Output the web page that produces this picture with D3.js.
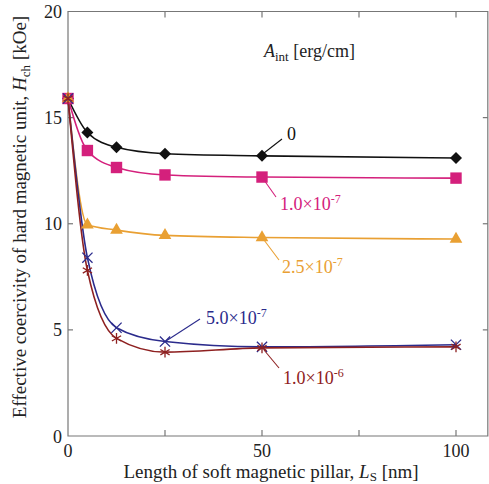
<!DOCTYPE html>
<html>
<head>
<meta charset="utf-8">
<script src="https://cdn.jsdelivr.net/npm/d3@7"></script>
</head>
<body style="margin:0">
<script>
// DATA
// Length of soft magnetic pillar [nm]
var lengths = [0, 5, 12.5, 25, 50, 100];

// Effective coercivity [kOe] for each exchange stiffness A_int
var hc0 = [15.9, 14.3, 13.6, 13.3, 13.2, 13.1];
var hc1e7 = [15.9, 13.45, 12.65, 12.3, 12.2, 12.15];
var hc25e7 = [15.9, 9.95, 9.7, 9.45, 9.35, 9.28];
var hc5e7 = [15.9, 8.4, 5.1, 4.45, 4.2, 4.3];
var hc1e6 = [15.9, 7.8, 4.6, 3.95, 4.15, 4.2];

var xTicks = [0, 25, 50, 75, 100];
var xTickLabels = ["0", "", "50", "", "100"];
var yTicks = [0, 5, 10, 15, 20];

var width = 489,
    height = 484;

var serif = "'Liberation Serif'";

var x = d3.scaleLinear().domain([0, 100]).range([68, 456]);
var y = d3.scaleLinear().domain([0, 20]).range([436, 11.5]);

var svg = d3.select("body").append("svg")
    .attr("width", width)
    .attr("height", height)
    .attr("font-family", "Liberation Serif");

var axisColor = "#777";

// frame
var right = x(108.2);
svg.append("path")
    .attr("d", "M" + x(0) + "," + y(20) + "H" + right + "V" + y(0) + "H" + x(0) + "Z")
    .attr("fill", "none")
    .attr("stroke", axisColor)
    .attr("stroke-width", 1.2);

// ticks (inward)
xTicks.forEach(function(t, i) {
    if (t > 0 && t < 108) {
        svg.append("line").attr("x1", x(t)).attr("x2", x(t))
            .attr("y1", y(0)).attr("y2", y(0) - 6)
            .attr("stroke", axisColor).attr("stroke-width", 1.2);
        svg.append("line").attr("x1", x(t)).attr("x2", x(t))
            .attr("y1", y(20)).attr("y2", y(20) + 6)
            .attr("stroke", axisColor).attr("stroke-width", 1.2);
    }
    if (xTickLabels[i]) {
        svg.append("text")
            .attr("x", x(t))
            .attr("y", 457)
            .attr("text-anchor", "middle")
            .style("font-family", serif)
            .style("font-size", "18px")
            .style("fill", "#222")
            .text(xTickLabels[i]);
    }
});

yTicks.forEach(function(t) {
    if (t > 0 && t < 20) {
        svg.append("line").attr("x1", x(0)).attr("x2", x(0) + 5)
            .attr("y1", y(t)).attr("y2", y(t))
            .attr("stroke", axisColor).attr("stroke-width", 1.2);
        svg.append("line").attr("x1", right).attr("x2", right - 5)
            .attr("y1", y(t)).attr("y2", y(t))
            .attr("stroke", axisColor).attr("stroke-width", 1.2);
    }
    svg.append("text")
        .attr("x", x(0) - 6)
        .attr("y", t === 0 ? y(t) + 7 : y(t) + 6)
        .attr("text-anchor", "end")
        .style("font-family", serif)
        .style("font-size", "18px")
        .style("fill", "#222")
        .text(t);
});

// axis titles
var yTitle = svg.append("text")
    .attr("transform", "translate(26," + 217 + ") rotate(-90)")
    .attr("text-anchor", "middle")
    .style("font-family", serif)
    .style("font-size", "19px")
    .style("fill", "#222");
yTitle.append("tspan").text("Effective coercivity of hard magnetic unit, ");
yTitle.append("tspan").style("font-style", "italic").text("H");
yTitle.append("tspan").attr("dy", 4).style("font-size", "13px").text("ch");
yTitle.append("tspan").attr("dy", -4).text(" [kOe]");

var xTitle = svg.append("text")
    .attr("x", 271)
    .attr("y", 478)
    .attr("text-anchor", "middle")
    .style("font-family", serif)
    .style("font-size", "19px")
    .style("fill", "#222");
xTitle.append("tspan").text("Length of soft magnetic pillar, ");
xTitle.append("tspan").style("font-style", "italic").text("L");
xTitle.append("tspan").attr("dy", 3).style("font-size", "13px").text("S");
xTitle.append("tspan").attr("dy", -3).text(" [nm]");

var aLabel = svg.append("text")
    .attr("x", 264)
    .attr("y", 57)
    .style("font-family", serif)
    .style("font-size", "18px")
    .style("fill", "#222");
aLabel.append("tspan").style("font-style", "italic").text("A");
aLabel.append("tspan").attr("dy", 4).style("font-size", "13px").text("int");
aLabel.append("tspan").attr("dy", -4).text(" [erg/cm]");

// series
var series = [
    { values: hc0, color: "#111", marker: "diamond", label: "0", sup: "", lx: 287, ly: 140, from: [282, 139], to: [264, 153] },
    { values: hc1e7, color: "#d4207c", marker: "square", label: "1.0\u00d710", sup: "-7", lx: 280, ly: 210, from: [276, 197], to: [264, 180] },
    { values: hc25e7, color: "#e9a033", marker: "triangle", label: "2.5\u00d710", sup: "-7", lx: 282, ly: 273, from: [279, 260], to: [264, 240] },
    { values: hc5e7, color: "#2b2b8c", marker: "cross", label: "5.0\u00d710", sup: "-7", lx: 206, ly: 324, from: [200, 319], to: [166, 341] },
    { values: hc1e6, color: "#8e2020", marker: "asterisk", label: "1.0\u00d710", sup: "-6", lx: 283, ly: 384, from: [279, 368], to: [264, 350] }
];

var line = d3.line()
    .x(function(d) { return x(d[0]); })
    .y(function(d) { return y(d[1]); })
    .curve(d3.curveMonotoneX);

var symbols = {
    diamond: d3.symbol().type(d3.symbolSquare).size(72),
    square: d3.symbol().type(d3.symbolSquare).size(130),
    triangle: d3.symbol().type(d3.symbolTriangle).size(70),
    cross: d3.symbol().type(d3.symbolX).size(70),
    asterisk: d3.symbol().type(d3.symbolAsterisk).size(80)
};

series.forEach(function(s) {
    var pts = lengths.map(function(l, i) { return [l, s.values[i]]; });
    svg.append("path")
        .datum(pts)
        .attr("d", line)
        .attr("fill", "none")
        .attr("stroke", s.color)
        .attr("stroke-width", 1.6);
});

series.forEach(function(s) {
    var pts = lengths.map(function(l, i) { return [l, s.values[i]]; });
    var stroked = s.marker === "cross" || s.marker === "asterisk";
    svg.selectAll(null)
        .data(pts)
        .enter().append("path")
        .attr("transform", function(d) {
            return "translate(" + x(d[0]) + "," + y(d[1]) + ")" + (s.marker === "diamond" ? " rotate(45)" : "");
        })
        .attr("d", symbols[s.marker])
        .attr("fill", stroked ? "none" : s.color)
        .attr("stroke", stroked ? s.color : "none")
        .attr("stroke-width", 1.3);

    svg.append("line")
        .attr("x1", s.from[0]).attr("y1", s.from[1])
        .attr("x2", s.to[0]).attr("y2", s.to[1])
        .attr("stroke", s.color)
        .attr("stroke-width", 1.1);

    var t = svg.append("text")
        .attr("x", s.lx)
        .attr("y", s.ly)
        .style("font-family", serif)
        .style("font-size", "18px")
        .style("fill", s.color);
    t.append("tspan").text(s.label);
    if (s.sup) {
        t.append("tspan").attr("dy", -7).style("font-size", "12px").text(s.sup);
    }
});
</script>
</body>
</html>
